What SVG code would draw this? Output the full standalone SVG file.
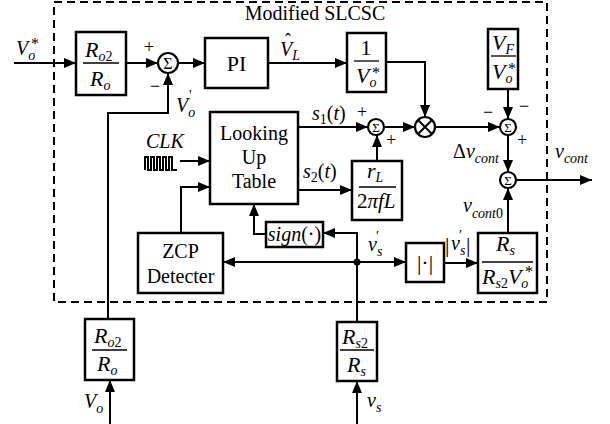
<svg xmlns="http://www.w3.org/2000/svg" width="610" height="424" viewBox="0 0 610 424">
<defs>
<marker id="ah" viewBox="0 0 12 10" refX="12" refY="5" markerWidth="12" markerHeight="10" markerUnits="userSpaceOnUse" orient="auto"><path d="M0,0 L12,5 L0,10 z" fill="#000"/></marker>
<style>
text{font-family:"Liberation Serif",Tinos,"Times New Roman","Nimbus Roman","FreeSerif","Noto Serif","DejaVu Serif",serif;font-size:20px;fill:#000}
.i{font-style:italic}
.n{font-style:normal}
.s{font-size:14px}
.f13{font-size:13px}
.f14{font-size:14px}
.f16{font-size:16px}
.f18{font-size:18px}
.f21{font-size:21px}
.f22{font-size:22px}
.box{fill:#fff;stroke:#000;stroke-width:2.5}
.ln{fill:none;stroke:#000;stroke-width:2}
.bar{stroke:#000;stroke-width:1.3}
.sum{fill:#fff;stroke:#000;stroke-width:2.2}
.dash{fill:none;stroke:#000;stroke-width:2;stroke-dasharray:8,5}
</style>
</defs>
<rect width="610" height="424" fill="#fff"/>

<g id="frame">
<rect class="dash" x="54" y="2" width="493" height="300"/>
<text x="315" y="20" text-anchor="middle">Modified SLCSC</text>
</g>

<g id="connectors">
<path class="ln" d="M14,63 H76" marker-end="url(#ah)"/>
<path class="ln" d="M126,63 H158" marker-end="url(#ah)"/>
<path class="ln" d="M178,63 H205" marker-end="url(#ah)"/>
<path class="ln" d="M268,63 H347" marker-end="url(#ah)"/>
<path class="ln" d="M386,62 H425 V117" marker-end="url(#ah)"/>
<path class="ln" d="M298,127 H368" marker-end="url(#ah)"/>
<path class="ln" d="M384,127 H415" marker-end="url(#ah)"/>
<path class="ln" d="M435,127 H500" marker-end="url(#ah)"/>
<path class="ln" d="M508,89 V119" marker-end="url(#ah)"/>
<path class="ln" d="M508,135 V172" marker-end="url(#ah)"/>
<path class="ln" d="M516,180 H592" marker-end="url(#ah)"/>
<path class="ln" d="M298,190 H352" marker-end="url(#ah)"/>
<path class="ln" d="M377,161 V135" marker-end="url(#ah)"/>
<path class="ln" d="M508,233 V188" marker-end="url(#ah)"/>
<path class="ln" d="M444,263 H478" marker-end="url(#ah)"/>
<path class="ln" d="M357,262 H406" marker-end="url(#ah)"/>
<path class="ln" d="M357,262 H223" marker-end="url(#ah)"/>
<path class="ln" d="M357,322 V233 H323" marker-end="url(#ah)"/>
<path class="ln" d="M266,234 H254 V204" marker-end="url(#ah)"/>
<path class="ln" d="M181,233 V187 H210" marker-end="url(#ah)"/>
<path class="ln" d="M180,161 H210" marker-end="url(#ah)"/>
<path class="ln" d="M108,319 V113 H168 V73" marker-end="url(#ah)"/>
<path class="ln" d="M110,424 V380" marker-end="url(#ah)"/>
<path class="ln" d="M357,424 V381" marker-end="url(#ah)"/>
<circle cx="357" cy="262" r="3.5" fill="#000"/>
</g>

<g id="labels">
<text class="i" x="16" y="55">V<tspan class="s" dy="5">o</tspan></text>
<text class="f16" x="31" y="49">*</text>
<text class="f18" x="149" y="53" text-anchor="middle">+</text>
<text class="f18" x="155" y="92" text-anchor="middle">−</text>
<text class="i" x="176" y="112">V<tspan class="s" dy="5">o</tspan></text>
<text class="f14" x="189" y="100">'</text>
<text class="i" x="280" y="56">V<tspan class="s" dy="4">L</tspan></text>
<text class="f18" x="285" y="46">ˆ</text>
<text class="i" x="312" y="120">s<tspan class="s n" dy="4">1</tspan><tspan class="n" dy="-4">(</tspan>t<tspan class="n">)</tspan></text>
<text class="f18" x="362" y="118" text-anchor="middle">+</text>
<text class="f18" x="391" y="146" text-anchor="middle">+</text>
<text class="i" x="303" y="178">s<tspan class="s n" dy="4">2</tspan><tspan class="n" dy="-4">(</tspan>t<tspan class="n">)</tspan></text>
<text class="f18" x="488" y="118" text-anchor="middle">−</text>
<text class="f18" x="524" y="112" text-anchor="middle">−</text>
<text class="f18" x="522" y="146" text-anchor="middle">+</text>
<text x="453" y="158">Δ<tspan class="i">v</tspan><tspan class="s i" dy="5">cont</tspan></text>
<text class="i" x="555" y="158">v<tspan class="s" dy="5">cont</tspan></text>
<text class="i" x="463" y="212">v<tspan class="s" dy="6">cont</tspan><tspan class="s n">0</tspan></text>
<text class="f22" x="445" y="252">|</text>
<text class="i" x="451" y="250">v<tspan class="s" dy="5">s</tspan></text>
<text class="f14" x="459" y="240">′</text>
<text class="f22" x="466" y="252">|</text>
<text class="i" x="368" y="251">v<tspan class="s" dy="5">s</tspan></text>
<text class="f14" x="376" y="241">′</text>
<text class="i" x="146" y="148">CLK</text>
<path class="ln" stroke-width="1.3" d="M145,170 V157 H148 V170 H151 V157 H154 V170 H157 V157 H160 V170 H163 V157 H166 V170 H169 V157 H172 V170 H177"/>
<text class="i" x="84" y="408">V<tspan class="s" dy="5">o</tspan></text>
<text class="i" x="367" y="407">v<tspan class="s" dy="5">s</tspan></text>
</g>

<g id="ro2ro_top">
<rect class="box" x="76" y="32" width="50" height="63"/>
<text class="i f22" x="85" y="57">R<tspan class="s" dy="4">o</tspan><tspan class="s n">2</tspan></text>
<line class="bar" x1="83" y1="63" x2="119" y2="63"/>
<text class="i f22" x="90" y="86">R<tspan class="s" dy="4">o</tspan></text>
</g>

<g id="sum1">
<circle class="sum" cx="168" cy="63" r="10"/>
<text class="f16" x="168" y="69" text-anchor="middle">Σ</text>
</g>

<g id="pi">
<rect class="box" x="205" y="38" width="63" height="50"/>
<text class="f22" x="236.5" y="71" text-anchor="middle">PI</text>
</g>

<g id="inv_vo">
<rect class="box" x="347" y="33" width="39" height="59"/>
<text class="f22" x="366" y="55" text-anchor="middle">1</text>
<line class="bar" x1="354" y1="61" x2="379" y2="61"/>
<text class="i f22" x="356" y="83">V<tspan class="s" dy="4">o</tspan></text>
<text class="f16" x="372" y="78">*</text>
</g>

<g id="vf_vo">
<rect class="box" x="488" y="29" width="30" height="60"/>
<text class="i f22" x="492" y="50">V<tspan class="s" dy="4">F</tspan></text>
<line class="bar" x1="491" y1="56" x2="516" y2="56"/>
<text class="i f22" x="492" y="79">V<tspan class="s" dy="4">o</tspan></text>
<text class="f16" x="508" y="74">*</text>
</g>

<g id="lut">
<rect class="box" x="210" y="112" width="88" height="92"/>
<text x="254" y="140" text-anchor="middle">Looking</text>
<text x="254" y="164" text-anchor="middle">Up</text>
<text x="254" y="188" text-anchor="middle">Table</text>
</g>

<g id="sum2">
<circle class="sum" cx="376" cy="127" r="8"/>
<text class="f13" x="376" y="132" text-anchor="middle">Σ</text>
</g>

<g id="mult">
<circle class="sum" cx="425" cy="127" r="10"/>
<path class="ln" d="M418,120 L432,134 M432,120 L418,134"/>
</g>

<g id="sum3">
<circle class="sum" cx="508" cy="127" r="8"/>
<text class="f13" x="508" y="132" text-anchor="middle">Σ</text>
</g>

<g id="sum4">
<circle class="sum" cx="508" cy="180" r="8"/>
<text class="f13" x="508" y="185" text-anchor="middle">Σ</text>
</g>

<g id="rl_box">
<rect class="box" x="352" y="161" width="50" height="59"/>
<text class="i f22" x="367" y="178">r<tspan class="s" dy="4">L</tspan></text>
<line class="bar" x1="359" y1="187" x2="396" y2="187"/>
<text class="f21" x="357" y="208">2<tspan class="i">πfL</tspan></text>
</g>

<g id="sign_box">
<rect class="box" x="266" y="222" width="57" height="25"/>
<text x="294.5" y="241" text-anchor="middle"><tspan class="i">sign</tspan>(·)</text>
</g>

<g id="zcp">
<rect class="box" x="138" y="233" width="85" height="60"/>
<text x="180.5" y="258" text-anchor="middle">ZCP</text>
<text x="180.5" y="283" text-anchor="middle">Detecter</text>
</g>

<g id="abs_box">
<rect class="box" x="406" y="243" width="38" height="39"/>
<text class="f22" x="425" y="270" text-anchor="middle">|·|</text>
</g>

<g id="rs_box">
<rect class="box" x="478" y="233" width="59" height="60"/>
<text class="i f22" x="496" y="251">R<tspan class="s" dy="4">s</tspan></text>
<line class="bar" x1="482" y1="262" x2="533" y2="262"/>
<text class="i f22" x="482" y="284">R<tspan class="s" dy="4">s</tspan><tspan class="s n">2</tspan><tspan dy="-4">V</tspan><tspan class="s" dy="4">o</tspan></text>
<text class="f16" x="525" y="277">*</text>
</g>

<g id="ro2ro_bottom">
<rect class="box" x="85" y="319" width="49" height="61"/>
<text class="i f22" x="94" y="343">R<tspan class="s" dy="4">o</tspan><tspan class="s n">2</tspan></text>
<line class="bar" x1="92" y1="350" x2="127" y2="350"/>
<text class="i f22" x="97" y="371">R<tspan class="s" dy="4">o</tspan></text>
</g>

<g id="rs2rs">
<rect class="box" x="337" y="322" width="40" height="59"/>
<text class="i f22" x="342" y="344">R<tspan class="s" dy="4">s</tspan><tspan class="s n">2</tspan></text>
<line class="bar" x1="340" y1="350" x2="374" y2="350"/>
<text class="i f22" x="347" y="372">R<tspan class="s" dy="4">s</tspan></text>
</g>
</svg>
